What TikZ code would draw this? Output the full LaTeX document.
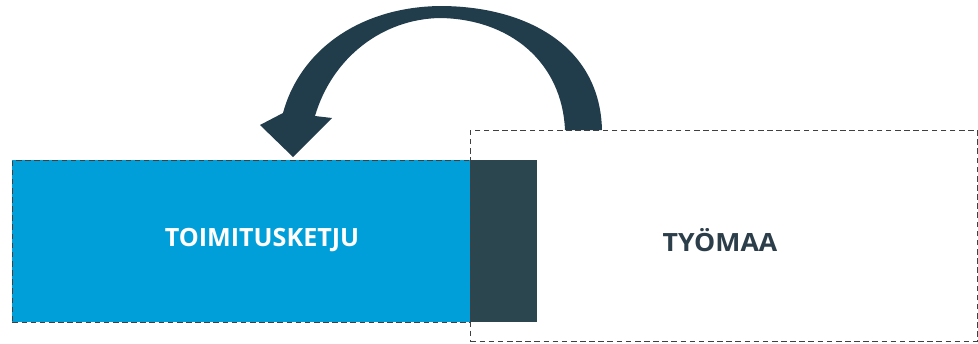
\documentclass[tikz,border=0pt]{standalone}
\usepackage{fontspec}
\setmainfont{Open Sans}
\definecolor{sblue}{HTML}{009FDA}
\definecolor{sdark}{HTML}{2C4650}
\definecolor{sarrow}{HTML}{213C4B}
\definecolor{stext}{HTML}{2B3E4A}
\tikzset{
  dashbox/.style={draw=black!75, dashed, dash pattern=on 3.2pt off 2pt, line width=0.5pt},
  label/.style={font=\fontsize{14.3pt}{16pt}\selectfont\bfseries, inner sep=0pt}
}
\begin{document}
\begin{tikzpicture}[x=0.02cm, y=-0.02cm]
\useasboundingbox (0,0) rectangle (978,343);
% white dashed box
\node[dashbox, fill=white, minimum width=507*0.02cm, minimum height=211*0.02cm, anchor=north west, inner sep=0pt] (site) at (470,130) {};
% blue box
\node[dashbox, fill=sblue, minimum width=458*0.02cm, minimum height=162*0.02cm, anchor=north west, inner sep=0pt] (chain) at (12,160) {};
% dark band
\node[fill=sdark, minimum width=67*0.02cm, minimum height=162*0.02cm, anchor=north west, inner sep=0pt] (band) at (470,160) {};
\draw[dashbox] (470,160) -- (470,322);
% labels
\node[label, text=white] (t1) at (262,240) {TOIMITUSKETJU};
\node[label, text=stext, xscale=1.06] (t2) at (720,240) {TYÖMAA};
% curved arrow
\fill[sarrow] (602,130) .. controls (600,45) and (525,6) .. (440,6)
  .. controls (360,7) and (300,50) .. (283,113)
  -- (260,125) -- (293,157) -- (332,118) -- (315,116)
  .. controls (332,58) and (382,19) .. (440,18)
  .. controls (510,19) and (562,62) .. (565,130) -- cycle;
\end{tikzpicture}
\end{document}
